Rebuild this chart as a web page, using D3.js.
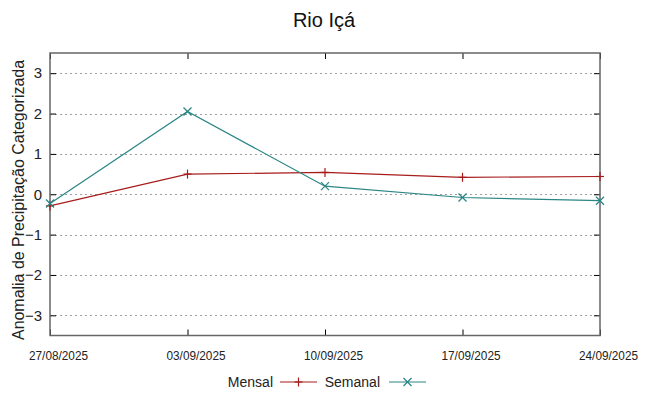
<!DOCTYPE html>
<html>
<head>
<meta charset="utf-8">
<script src="https://cdn.jsdelivr.net/npm/d3@7"></script>
<style>
  html, body { margin: 0; padding: 0; background: #fff; }
  svg { display: block; font-family: "Liberation Sans", Arial, sans-serif; }
</style>
</head>
<body>
<svg id="chart" width="648" height="396"></svg>
<script>
const title = "Rio Içá";
const yLabel = "Anomalia de Precipitação Categorizada";
const dates = ["27/08/2025", "03/09/2025", "10/09/2025", "17/09/2025", "24/09/2025"];
const mensal = [-0.29, 0.50, 0.54, 0.42, 0.44];
const semanal = [-0.23, 2.05, 0.20, -0.08, -0.16];
const yTicks = [-3, -2, -1, 0, 1, 2, 3];
const seriesNames = ["Mensal", "Semanal"];
const seriesColors = ["#a81c1c", "#2a8585"];

const svg = d3.select("#chart");
const pLeft = 50, pRight = 600, pTop = 53, pBottom = 335.5;

const x = d3.scalePoint().domain(dates).range([pLeft, pRight]);
const y = d3.scaleLinear().domain([-3.5, 3.5]).range([pBottom, pTop]);

// grid
svg.append("g").selectAll("line").data(yTicks).join("line")
  .attr("x1", pLeft).attr("x2", pRight)
  .attr("y1", d => Math.round(y(d)) + 0.5).attr("y2", d => Math.round(y(d)) + 0.5)
  .attr("stroke", "#a0a0a0").attr("stroke-width", 1).attr("stroke-dasharray", "2,3");

// y axis left
const yAxis = d3.axisLeft(y).tickValues(yTicks).tickSize(-6).tickPadding(8).tickFormat(d3.format("d"));
const gy = svg.append("g").attr("transform", `translate(${pLeft},0)`).call(yAxis);
gy.select(".domain").remove();
gy.selectAll(".tick line").attr("stroke", "#000");
gy.selectAll(".tick text").attr("font-size", 15).attr("fill", "#222")
  .attr("font-family", "'Liberation Sans', Arial, sans-serif");

// y axis right ticks
const gy2 = svg.append("g").attr("transform", `translate(${pRight},0)`)
  .call(d3.axisRight(y).tickValues(yTicks).tickSize(-6).tickFormat(""));
gy2.select(".domain").remove();
gy2.selectAll(".tick line").attr("stroke", "#000");

// x axis
const xAxis = d3.axisBottom(x).tickSize(-6).tickPadding(16);
const gx = svg.append("g").attr("transform", `translate(0,${pBottom})`).call(xAxis);
gx.select(".domain").remove();
gx.selectAll(".tick line").attr("stroke", "#000");
gx.selectAll(".tick text").attr("font-size", 12.5).attr("fill", "#222")
  .attr("x", 8)
  .attr("font-family", "'Liberation Sans Narrow', 'Liberation Sans', Arial, sans-serif")
  .attr("textLength", 59).attr("lengthAdjust", "spacingAndGlyphs");

const gxt = svg.append("g").attr("transform", `translate(0,${pTop})`)
  .call(d3.axisTop(x).tickSize(-6).tickFormat(""));
gxt.select(".domain").remove();
gxt.selectAll(".tick line").attr("stroke", "#000");

// border
svg.append("rect").attr("x", pLeft).attr("y", pTop).attr("width", pRight - pLeft).attr("height", pBottom - pTop)
  .attr("fill", "none").attr("stroke", "#666").attr("stroke-width", 1.5);

// series
const allSeries = [mensal, semanal];
const line = d3.line().x((d, i) => x(dates[i])).y(d => y(d));

function plusMarker(g, cx, cy, color) {
  g.append("line").attr("x1", cx - 4).attr("x2", cx + 4).attr("y1", cy).attr("y2", cy).attr("stroke", color).attr("stroke-width", 1.2);
  g.append("line").attr("x1", cx).attr("x2", cx).attr("y1", cy - 4.5).attr("y2", cy + 4.5).attr("stroke", color).attr("stroke-width", 1.2);
}
function crossMarker(g, cx, cy, color) {
  g.append("line").attr("x1", cx - 4).attr("x2", cx + 4).attr("y1", cy - 4).attr("y2", cy + 4).attr("stroke", color).attr("stroke-width", 1.2);
  g.append("line").attr("x1", cx - 4).attr("x2", cx + 4).attr("y1", cy + 4).attr("y2", cy - 4).attr("stroke", color).attr("stroke-width", 1.2);
}
const markers = [plusMarker, crossMarker];

allSeries.forEach((vals, s) => {
  const g = svg.append("g");
  g.append("path").attr("d", line(vals)).attr("fill", "none")
    .attr("stroke", seriesColors[s]).attr("stroke-width", 1.2);
  vals.forEach((v, i) => markers[s](g, x(dates[i]), y(v), seriesColors[s]));
});

// title
svg.append("text").attr("x", 324).attr("y", 27).attr("text-anchor", "middle")
  .attr("font-size", 20).attr("fill", "#111").text(title);

// y label
svg.append("text").attr("transform", "translate(24,200) rotate(-90)")
  .attr("text-anchor", "middle").attr("font-size", 16).attr("fill", "#222")
  .attr("textLength", 280).attr("lengthAdjust", "spacingAndGlyphs").text(yLabel);

// legend
const legendY = 382;
const legendItems = [
  { textEnd: 273, lx1: 280, lx2: 317 },
  { textEnd: 380, lx1: 389, lx2: 426 }
];
legendItems.forEach((it, s) => {
  const g = svg.append("g");
  g.append("text").attr("x", it.textEnd).attr("y", legendY + 5).attr("text-anchor", "end")
    .attr("font-size", 14).attr("fill", "#222").text(seriesNames[s]);
  g.append("line").attr("x1", it.lx1).attr("x2", it.lx2).attr("y1", legendY).attr("y2", legendY)
    .attr("stroke", seriesColors[s]).attr("stroke-width", 1.2);
  markers[s](g, (it.lx1 + it.lx2) / 2, legendY, seriesColors[s]);
});
</script>
</body>
</html>
